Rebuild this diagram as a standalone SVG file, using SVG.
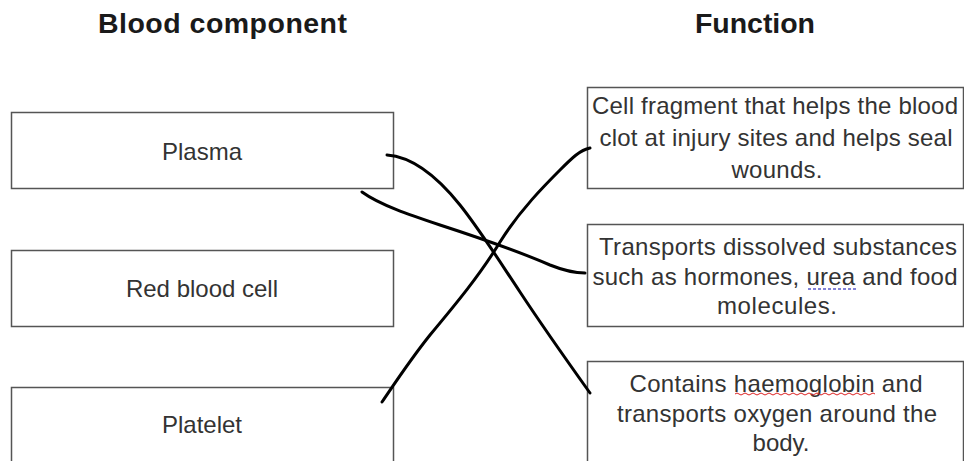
<svg xmlns="http://www.w3.org/2000/svg" width="964" height="461" viewBox="0 0 964 461">
<style>
.title{font-family:"Liberation Sans",Arial,sans-serif;font-weight:bold;font-size:28.5px;fill:#1a1a1a;text-anchor:middle}
.box{fill:#fff;stroke:#555;stroke-width:1.5}
.t{font-family:"Liberation Sans",Arial,sans-serif;font-size:24px;fill:#333;text-anchor:middle}
.ink{fill:none;stroke:#000;stroke-width:3;stroke-linecap:round;stroke-linejoin:round}
</style>
<rect width="964" height="461" fill="#fff"/>
<text class="title" x="222.5" y="33" textLength="249">Blood component</text>
<text class="title" x="755" y="33" textLength="120">Function</text>
<g id="plasma">
<rect class="box" x="11.5" y="112.5" width="382" height="76"/>
<text class="t" x="202" y="160">Plasma</text>
</g>
<g id="red-blood-cell">
<rect class="box" x="11.5" y="250.5" width="382" height="76"/>
<text class="t" x="202" y="297">Red blood cell</text>
</g>
<g id="platelet">
<rect class="box" x="11.5" y="387.5" width="382" height="90"/>
<text class="t" x="202" y="433">Platelet</text>
</g>
<g id="fn-clot">
<rect class="box" x="587.5" y="87.5" width="376" height="101"/>
<text class="t" x="775" y="114" textLength="366">Cell fragment that helps the blood</text>
<text class="t" x="776" y="146" textLength="353">clot at injury sites and helps seal</text>
<text class="t" x="777" y="178" textLength="91">wounds.</text>
</g>
<g id="fn-transport">
<rect class="box" x="587.5" y="224.5" width="376" height="102"/>
<text class="t" x="778" y="255" textLength="358">Transports dissolved substances</text>
<text class="t" x="775" y="285" textLength="365">such as hormones, urea and food</text>
<text class="t" x="777" y="314" textLength="120">molecules.</text>
<path d="M808,289 H856" stroke="#5a5acc" stroke-width="1.5" stroke-dasharray="3,2" fill="none"/>
</g>
<g id="fn-haemoglobin">
<rect class="box" x="587.5" y="361.5" width="376" height="110"/>
<text class="t" x="776" y="392" textLength="293">Contains haemoglobin and</text>
<text class="t" x="777" y="422" textLength="320">transports oxygen around the</text>
<text class="t" x="781" y="451">body.</text>
<path d="M735,394 q2,-2 4,0 t4,0 t4,0 t4,0 t4,0 t4,0 t4,0 t4,0 t4,0 t4,0 t4,0 t4,0 t4,0 t4,0 t4,0 t4,0 t4,0 t4,0 t4,0 t4,0 t4,0 t4,0 t4,0 t4,0 t4,0 t4,0 t4,0 t4,0 t4,0 t4,0 t4,0 t4,0 t4,0 t4,0 t4,0" stroke="#d22" stroke-width="1" fill="none"/>
</g>
<g id="connectors">
<path class="ink" d="M387,155 C415,157 440,180 460,205 C480,230 500,262 520,292 C545,330 570,365 590,393"/>
<path class="ink" d="M362,192 C380,205 410,215 440,225 C480,238 520,252 550,265 C565,271 575,273 585,273"/>
<path class="ink" d="M382,402 C395,383 410,360 430,335 C455,305 480,275 500,242 C520,210 545,185 560,170 C572,158 580,150 590,148"/>
</g>
</svg>
